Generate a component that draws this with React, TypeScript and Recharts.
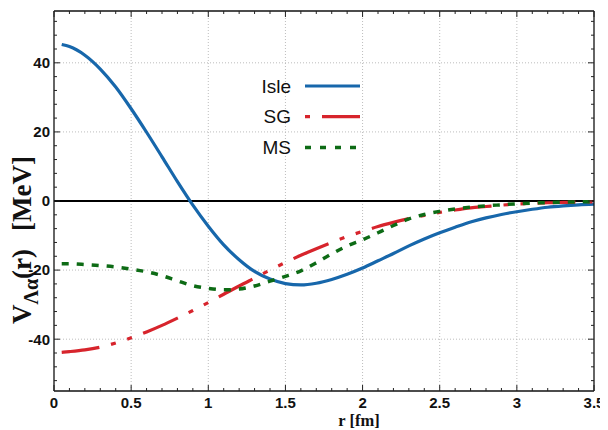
import React from 'react';
import {LineChart, Line, XAxis, YAxis, ReferenceLine, Label} from 'recharts';

// radius in fm
const r = [0.05, 0.1, 0.2, 0.3, 0.4, 0.5, 0.6, 0.7, 0.8, 0.9, 1.0, 1.1, 1.2, 1.3, 1.4, 1.5, 1.6, 1.7, 1.8, 1.9,
	2.0, 2.1, 2.2, 2.3, 2.4, 2.5, 2.6, 2.7, 2.8, 2.9, 3.0, 3.1, 3.2, 3.3, 3.4, 3.5];

// potentials in MeV
const isle = [45.3, 44.7, 42.2, 38.2, 33.0, 26.7, 19.9, 12.8, 5.6, -1.2, -7.3, -12.7, -17.0, -20.4, -22.6, -23.9, -24.3, -23.8, -22.7, -21.2,
	-19.4, -17.3, -15.2, -13.0, -11.0, -9.2, -7.6, -6.1, -4.9, -3.9, -3.1, -2.4, -1.8, -1.4, -1.1, -0.9];
const sg = [-43.8, -43.6, -43.1, -42.3, -41.1, -39.6, -37.9, -36.0, -33.9, -31.7, -29.4, -27.0, -24.6, -22.3, -20.0, -17.8, -15.7, -13.8, -12.0, -10.3,
	-8.8, -7.4, -6.2, -5.1, -4.2, -3.3, -2.6, -2.0, -1.6, -1.2, -0.9, -0.7, -0.5, -0.4, -0.3, -0.25];
const ms = [-18.2, -18.2, -18.4, -18.7, -19.1, -19.7, -20.5, -21.6, -23.1, -24.5, -25.3, -25.7, -25.5, -24.6, -23.2, -21.8, -20.2, -17.9, -15.3, -13.0,
	-11.2, -9.2, -7.1, -5.2, -3.9, -3.0, -2.3, -1.8, -1.4, -1.1, -0.8, -0.6, -0.45, -0.35, -0.25, -0.2];

const xTickLabels = [0, 0.5, 1, 1.5, 2, 2.5, 3, 3.5];
const yTickLabels = [-40, -20, 0, 20, 40];

const xTicks = Array.from({length: 36}, (_, i) => i / 10);
const yTicks = Array.from({length: 27}, (_, i) => -52 + 4 * i);

const data = r.map((v, i) => ({r: v, isle: isle[i], sg: sg[i], ms: ms[i]}));

const BLUE = '#1767ab';
const RED = '#d7242c';
const GREEN = '#0d6b15';
const SANS = '"Liberation Sans", Arial, sans-serif';
const SERIF = '"Liberation Serif", "Times New Roman", serif';

const majorX = (v: number) => xTickLabels.some(t => Math.abs(t - v) < 1e-6);
const majorY = (v: number) => yTickLabels.includes(v);

function makeTick(side: string, showLabel: boolean) {
	return (props: any) => {
		const {x, y, payload} = props;
		const v = payload.value;
		const major = side === 'bottom' || side === 'top' ? majorX(v) : majorY(v);
		const len = major ? 6 : 3;
		let l = {x1: x, y1: y, x2: x, y2: y};
		if (side === 'bottom') l.y2 = y - len;
		if (side === 'top') l.y2 = y + len;
		if (side === 'left') l.x2 = x + len;
		if (side === 'right') l.x2 = x - len;
		const label = showLabel && major ? (
			side === 'bottom'
				? <text x={x} y={y + 17} textAnchor='middle' fontSize={15} fontWeight='bold' fontFamily={SANS} fill='#111'>{v}</text>
				: <text x={x - 4} y={y + 5.4} textAnchor='end' fontSize={15} fontWeight='bold' fontFamily={SANS} fill='#111'>{v}</text>
		) : null;
		return (
			<g>
				<line {...l} stroke='#222' strokeWidth={1}/>
				{label}
			</g>
		);
	};
}

const gridX = [0.5, 1, 1.5, 2, 2.5, 3];
const gridY = [-40, -20, 20, 40];

function LegendBox() {
	const rows = [
		{name: 'Isle', color: BLUE, dash: undefined, offset: 0, width: 3.2},
		{name: 'SG', color: RED, dash: '38 12 5 12 5 12', offset: 67, width: 3.2},
		{name: 'MS', color: GREEN, dash: '6 9', offset: 0, width: 3.5},
	];
	return (
		<svg width={140} height={100} style={{position: 'absolute', left: 228, top: 58}}>
			{rows.map((row, i) => {
				const cy = 20 + i * 30.7;
				return (
					<g key={row.name}>
						<text x={55} y={cy + 6.6} textAnchor='end' fontSize={19} fontFamily={SANS} fill='#111'>{row.name}</text>
						<line x1={69} x2={124} y1={cy} y2={cy} stroke={row.color} strokeWidth={row.width}
							strokeDasharray={row.dash} strokeDashoffset={row.offset}/>
					</g>
				);
			})}
		</svg>
	);
}

export default function App() {
	return (
		<div style={{position: 'relative', width: 600, height: 422}}>
			<style>{'html,body{overflow:hidden}'}</style>
			<LineChart width={600} height={422} data={data} margin={{top: 2, right: 13, left: 0, bottom: 0}}>
				<XAxis xAxisId='b' type='number' dataKey='r' domain={[0, 3.5]} ticks={xTicks} interval={0} height={39}
					tickSize={0} tickMargin={0} tickLine={false} tick={makeTick('bottom', true)}
					axisLine={{stroke: '#111', strokeWidth: 1.3}} allowDataOverflow>
					<Label content={() => (
						<text x={351} y={418.4} textAnchor='middle' fontSize={16.5} fontWeight='bold' fontFamily={SERIF} fill='#111'>r [fm]</text>
					)}/>
				</XAxis>
				<XAxis xAxisId='t' orientation='top' type='number' dataKey='r' domain={[0, 3.5]} ticks={xTicks} interval={0} height={1}
					tickSize={0} tickMargin={0} tickLine={false} tick={makeTick('top', false)}
					axisLine={{stroke: '#111', strokeWidth: 1.3}} allowDataOverflow/>
				<YAxis yAxisId='l' type='number' domain={[-55, 55]} ticks={yTicks} interval={0} width={46}
					tickSize={0} tickMargin={0} tickLine={false} tick={makeTick('left', true)}
					axisLine={{stroke: '#111', strokeWidth: 1.3}} allowDataOverflow>
					<Label content={() => (
						<text transform='translate(23,232) rotate(-90)' textAnchor='middle' fontSize={27} fontWeight='bold' fontFamily={SERIF} fill='#111'>
							<tspan>V</tspan>
							<tspan dy={7} fontSize={20}>Λα</tspan>
							<tspan dy={-7}>(r)</tspan>
							<tspan dx={18}>[MeV]</tspan>
						</text>
					)}/>
				</YAxis>
				<YAxis yAxisId='r' orientation='right' type='number' domain={[-55, 55]} ticks={yTicks} interval={0} width={1}
					tickSize={0} tickMargin={0} tickLine={false} tick={makeTick('right', false)}
					axisLine={{stroke: '#111', strokeWidth: 1.3}} allowDataOverflow/>
				{gridX.map(v => (
					<ReferenceLine key={'gx' + v} xAxisId='b' yAxisId='l' x={v} stroke='#bdbdbd' strokeDasharray='1 2'/>
				))}
				{gridY.map(v => (
					<ReferenceLine key={'gy' + v} xAxisId='b' yAxisId='l' y={v} stroke='#bdbdbd' strokeDasharray='1 2'/>
				))}
				<ReferenceLine xAxisId='b' yAxisId='l' y={0} stroke='#000' strokeWidth={2}/>
				<Line xAxisId='b' yAxisId='l' type='monotone' dataKey='isle' stroke={BLUE} strokeWidth={3.2} dot={false} isAnimationActive={false}/>
				<Line xAxisId='b' yAxisId='l' type='monotone' dataKey='sg' stroke={RED} strokeWidth={3.2} strokeDasharray='38 12 5 12 5 12'
					dot={false} isAnimationActive={false}/>
				<Line xAxisId='b' yAxisId='l' type='monotone' dataKey='ms' stroke={GREEN} strokeWidth={3.5} strokeDasharray='7 8'
					dot={false} isAnimationActive={false}/>
			</LineChart>
			<LegendBox/>
		</div>
	);
}
